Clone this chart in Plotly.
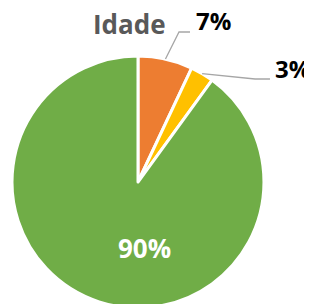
import math
import plotly.graph_objects as go

# ---- data ----
categories = ["Faixa A", "Faixa B", "Faixa C"]
values = [7, 3, 90]
value_labels = ["7%", "3%", "90%"]
colors = ["#ED7D31", "#FFC000", "#70AD47"]
title_text = "Idade"

# the page body has an 8px margin, so the figure is drawn from (8, 8);
# all layout pixel positions below are in figure coordinates.
W, H = 304, 304
dom_x = [0.0132, 0.842]
dom_y = [0.0132, 0.842]

fig = go.Figure(go.Pie(
    labels=categories,
    values=values,
    sort=False,
    direction="clockwise",
    rotation=0,
    marker=dict(colors=colors, line=dict(color="white", width=3)),
    textinfo="none",
    domain=dict(x=dom_x, y=dom_y),
    showlegend=False,
    hoverinfo="label+percent",
))

# pie geometry (pixels, y downward)
cx = W * (dom_x[0] + dom_x[1]) / 2
cy = H * (1 - (dom_y[0] + dom_y[1]) / 2)
r = min(W * (dom_x[1] - dom_x[0]), H * (dom_y[1] - dom_y[0])) / 2

total = sum(values)
cum = 0
mids = []
for v in values:
    mids.append((cum + v / 2) / total * 2 * math.pi)
    cum += v

def px2paper(x, y):
    return x / W, 1 - y / H

# outside label layout: (elbow, end, text anchor) in pixels
label_layout = {
    0: dict(elbow=(171, 24), end=(182, 24), text=(186, 12)),
    1: dict(elbow=(247, 71), end=(262, 71), text=(265, 60)),
}

shapes = []
annotations = []
for i, lay in label_layout.items():
    a = mids[i]
    sx = cx + r * math.sin(a)
    sy = cy - r * math.cos(a)
    pts = [(sx, sy), lay["elbow"], lay["end"]]
    path = "M " + " L ".join(f"{px2paper(x, y)[0]:.4f},{px2paper(x, y)[1]:.4f}" for x, y in pts)
    shapes.append(dict(type="path", path=path, xref="paper", yref="paper",
                       line=dict(color="#A6A6A6", width=1.3)))
    tx, ty = px2paper(*lay["text"])
    annotations.append(dict(x=tx, y=ty, xref="paper", yref="paper", text=value_labels[i],
                            showarrow=False, xanchor="left", yanchor="middle",
                            font=dict(family="Open Sans", size=24, color="black", weight="bold")))

# inside label for the large slice
ix, iy = px2paper(cx + 7, cy + 66)
annotations.append(dict(x=ix, y=iy, xref="paper", yref="paper", text=value_labels[2],
                        showarrow=False, xanchor="center", yanchor="middle",
                        font=dict(family="Open Sans", size=26, color="white", weight="bold")))

tx, ty = px2paper(121, 16)
annotations.append(dict(x=tx, y=ty, xref="paper", yref="paper", text=title_text,
                        showarrow=False, xanchor="center", yanchor="middle",
                        font=dict(family="Open Sans", size=26, color="#595959", weight="bold")))

fig.update_layout(
    width=W, height=H,
    margin=dict(l=0, r=0, t=0, b=0),
    paper_bgcolor="white",
    plot_bgcolor="white",
    shapes=shapes,
    annotations=annotations,
)

fig.write_html("out.html")
